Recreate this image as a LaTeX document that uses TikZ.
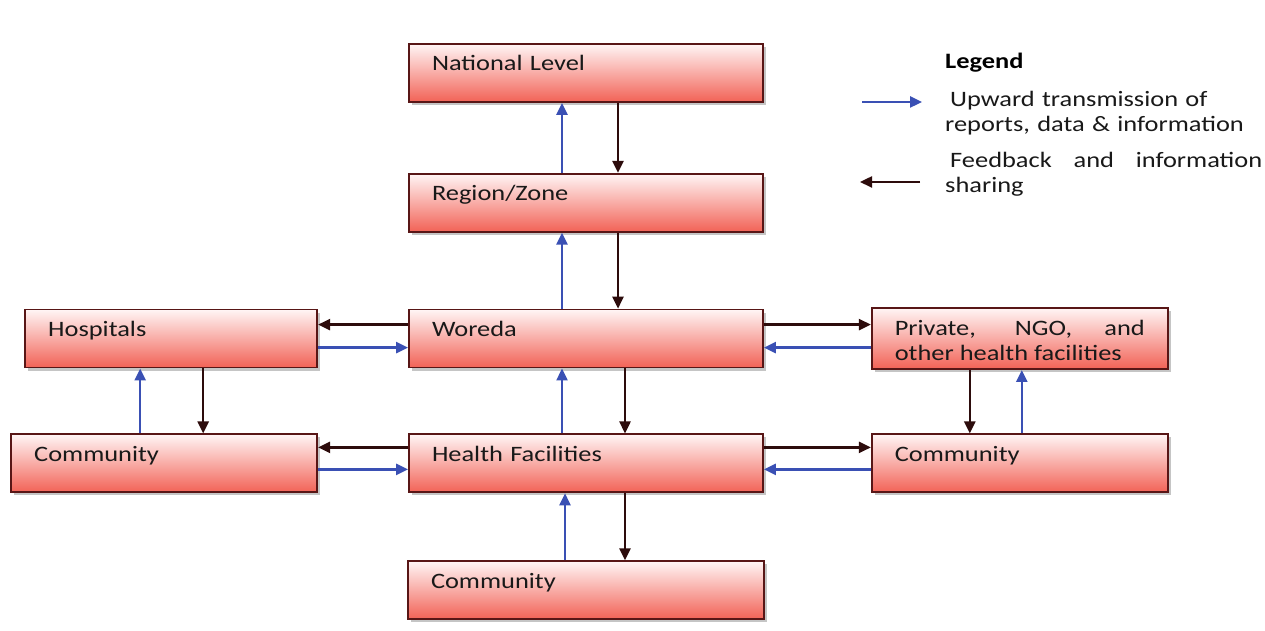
\documentclass[tikz,border=0pt]{standalone}
\usepackage{fontspec}
\setmainfont{Carlito}[FakeStretch=1.2]
\usetikzlibrary{positioning,arrows.meta,shadows}
\definecolor{boxred}{RGB}{242,98,86}
\definecolor{boxline}{RGB}{88,22,22}
\definecolor{upblue}{RGB}{58,80,180}
\definecolor{fbdark}{RGB}{45,12,12}

\begin{document}
\begin{tikzpicture}[
    x=1pt, y=1pt,
    >={Triangle[length=12pt,width=11pt]},
    font=\fontsize{22}{25}\selectfont,
    box/.style={
        rectangle,
        draw=boxline,
        line width=1.8pt,
        top color=red!4,
        bottom color=boxred,
        drop shadow={shadow xshift=3pt,shadow yshift=-3pt,fill=black!45},
        inner xsep=23pt,
        inner ysep=0pt,
        text height=27pt,
        text depth=31pt,
        text width=308pt,
        align=left,
        text=black!90
    },
    up/.style={->, upblue, line width=2.4pt},
    down/.style={->, fbdark, line width=2.4pt},
    legtext/.style={anchor=base west, inner sep=0pt, text width=317pt, text=black!90}
]
\fill[white] (0,0) rectangle (1265,631);
\useasboundingbox (0,0) rectangle (1265,631);

% main column
\node[box] (nat) at (586,558) {National Level};
\node[box, below=70pt of nat] (reg) {Region/Zone};
\node[box, below=76pt of reg] (wor) {Woreda};
\node[box, below=65pt of wor] (hf) {Health Facilities};
\node[box, below=67pt of hf, text width=310pt] (comB) {Community};

% side columns
\node[box, left=90pt of wor, text width=246pt] (hosp) {Hospitals};
\node[box, left=90pt of hf, text width=260pt] (comL) {Community};
\node[box, right=107pt of wor, text width=250pt, text depth=34pt, align=justify] (priv) {Private, NGO, and\linebreak other health facilities};
\node[box, right=107pt of hf, text width=250pt] (comR) {Community};

% legend
\node[anchor=base west, inner sep=0pt, font=\fontsize{22}{25}\selectfont\bfseries] (leg) at (945,562) {Legend};
\node[legtext, align=left] (legup) at (945,524) {\hspace*{5pt}Upward transmission of\\reports, data \& information};
\node[legtext, align=justify] (legfb) at (945,463) {\hspace*{5pt}Feedback and information sharing};
\coordinate (upa) at (862,529);
\coordinate (upb) at (922,529);
\coordinate (fba) at (920,449);
\coordinate (fbb) at (860,449);
\draw[up] (upa) -- (upb);
\draw[down] (fba) -- (fbb);

% vertical links
\draw[up] ([xshift=-24pt]reg.north) -- ([xshift=-24pt]nat.south);
\draw[down] ([xshift=32pt]nat.south) -- ([xshift=32pt]reg.north);
\draw[up] ([xshift=-24pt]wor.north) -- ([xshift=-24pt]reg.south);
\draw[down] ([xshift=32pt]reg.south) -- ([xshift=32pt]wor.north);
\draw[up] ([xshift=-24pt]hf.north) -- ([xshift=-24pt]wor.south);
\draw[down] ([xshift=39pt]wor.south) -- ([xshift=39pt]hf.north);
\draw[up] ([xshift=-21pt]comB.north) -- ([xshift=-21pt]hf.south);
\draw[down] ([xshift=39pt]hf.south) -- ([xshift=39pt]comB.north);
\draw[up] ([xshift=-31pt]hosp.south |- comL.north) -- ([xshift=-31pt]hosp.south);
\draw[down] ([xshift=32pt]hosp.south) -- ([xshift=32pt]hosp.south |- comL.north);
\draw[up] ([xshift=2pt]comR.north) -- ([xshift=2pt]priv.south);
\draw[down] ([xshift=-50pt]priv.south) -- ([xshift=-50pt]comR.north);

% horizontal links
\draw[down] ([yshift=14pt]wor.west) -- ([yshift=14pt]hosp.east);
\draw[up] ([yshift=-9pt]hosp.east) -- ([yshift=-9pt]wor.west);
\draw[down] ([yshift=14pt]wor.east) -- ([yshift=14pt]wor.east -| priv.west);
\draw[up] ([yshift=-9pt]wor.east -| priv.west) -- ([yshift=-9pt]wor.east);
\draw[down] ([yshift=16pt]hf.west) -- ([yshift=16pt]comL.east);
\draw[up] ([yshift=-6pt]comL.east) -- ([yshift=-6pt]hf.west);
\draw[down] ([yshift=16pt]hf.east) -- ([yshift=16pt]comR.west);
\draw[up] ([yshift=-6pt]comR.west) -- ([yshift=-6pt]hf.east);

\end{tikzpicture}
\end{document}
